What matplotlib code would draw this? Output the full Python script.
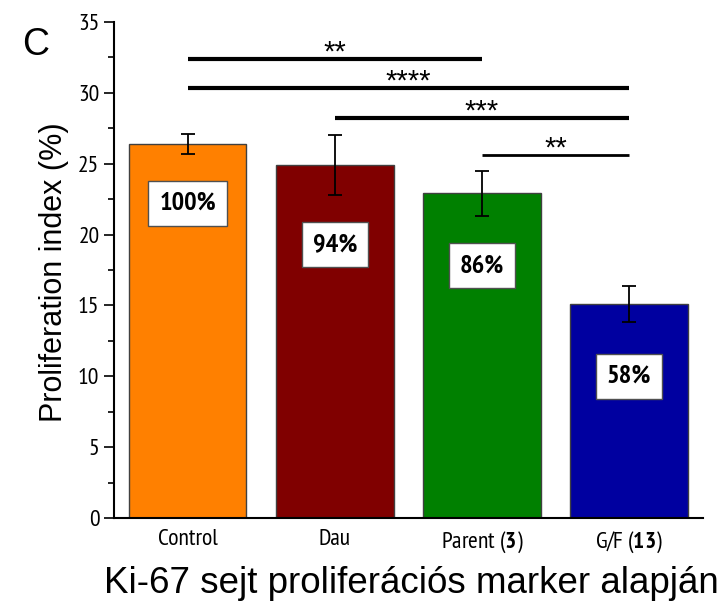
import numpy as np
import matplotlib
matplotlib.use("Agg")
import matplotlib.pyplot as plt
from matplotlib import font_manager

# Data
groups = ['Control', 'Dau', 'Parent (3)', 'G/F (13)']
prolif = [26.4, 24.9, 22.9, 15.1]
err = [0.7, 2.1, 1.6, 1.3]
rel_pct = ['100%', '94%', '86%', '58%']
label_y = [22.2, 19.3, 17.8, 10.0]
bar_colors = ['#FF8000', '#800000', '#008000', '#0000A0']

# significance brackets: (from bar, to bar, height, stars)
sig_from = [0, 0, 1, 2]
sig_to = [2, 3, 3, 3]
sig_y = [32.4, 30.3, 28.2, 25.6]
sig_stars = ['**', '****', '***', '**']

# pick a narrow Arial-like face that also has a bold cut
fonts = font_manager.fontManager.ttflist
def has_bold(name):
    return any(f.name == name and f.weight in (700, 'bold') for f in fonts)

narrow_name = 'Liberation Sans'
for cand in ['Liberation Sans Narrow', 'Arial Narrow', 'Archivo Narrow', 'PT Sans Narrow',
             'Roboto Condensed', 'Pragati Narrow', 'Encode Sans Condensed',
             'Open Sans Condensed', 'Fira Sans Condensed', 'IBM Plex Sans Condensed']:
    if has_bold(cand):
        narrow_name = cand
        break
narrow = [narrow_name, 'Liberation Sans']

plt.rcParams['mathtext.fontset'] = 'custom'
plt.rcParams['mathtext.rm'] = narrow_name
plt.rcParams['mathtext.bf'] = narrow_name + ':bold'

fig = plt.figure(figsize=(7.26, 6.06), dpi=100)
ax = fig.add_axes([0.157, 0.145, 0.811, 0.819])

x = np.arange(1, len(groups) + 1)
ax.bar(x, prolif, width=0.8, color=bar_colors, edgecolor='#404040', linewidth=1.0, zorder=2)
ax.errorbar(x, prolif, yerr=err, fmt='none', ecolor='black', elinewidth=1.3,
            capsize=5, capthick=1.3, zorder=3)

for xi, yi, t in zip(x, label_y, rel_pct):
    ax.text(xi, yi, t, ha='center', va='center', fontsize=19, fontweight='bold',
            family=narrow, zorder=4,
            bbox=dict(boxstyle='square,pad=0.42', fc='white', ec='#505050', lw=1))

for i, (a, b, h, s) in enumerate(zip(sig_from, sig_to, sig_y, sig_stars)):
    lw = 2 if i == 3 else 3
    ax.plot([x[a], x[b]], [h, h], color='black', lw=lw, solid_capstyle='butt')
    ax.annotate(s, ((x[a] + x[b]) / 2, h), xytext=(0, -1), textcoords='offset points',
                ha='center', va='baseline', fontsize=21, family='Liberation Sans')

ax.set_xlim(0.5, 4.5)
ax.set_ylim(0, 35)
ax.set_yticks(np.arange(0, 36, 5))
ax.set_yticks(np.arange(2.5, 35, 5), minor=True)
ax.set_xticks(x)
ax.set_xticklabels([])
for xi, g in zip(x, groups):
    if '(' in g:
        base, num = g.split('(')
        num = num.rstrip(')')
        lab = base + '(' + r'$\mathbf{' + num + '}$' + ')'
    else:
        lab = g
    ax.annotate(lab, (xi, 0), xytext=(0, -8), textcoords='offset points',
                ha='center', va='top', fontsize=17, family=narrow, annotation_clip=False)
ax.tick_params(axis='x', length=0)
ax.tick_params(axis='y', which='major', length=7, width=1.2, labelsize=17)
ax.tick_params(axis='y', which='minor', length=4, width=1.2)
for lab in ax.get_yticklabels():
    lab.set_family(narrow)
ax.spines['top'].set_visible(False)
ax.spines['right'].set_visible(False)
ax.spines['left'].set_linewidth(1.5)
ax.spines['bottom'].set_linewidth(1.5)
ax.set_ylabel('Proliferation index (%)', fontsize=22, family='Liberation Sans')
ax.yaxis.set_label_coords(-0.077, 0.495)

fig.text(0.03, 0.91, 'C', fontsize=27, family='Liberation Sans')
fig.text(0.567, 0.022, 'Ki-67 sejt proliferációs marker alapján', fontsize=26.5,
         family='Liberation Sans', ha='center')

fig.savefig('out.png', dpi=100)
